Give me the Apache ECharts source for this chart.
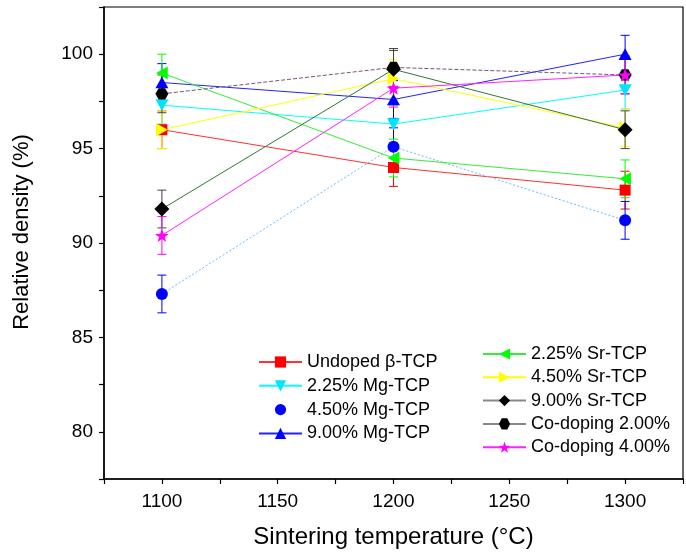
<!DOCTYPE html>
<html>
<head>
<meta charset="utf-8">
<script src="https://cdn.jsdelivr.net/npm/echarts@6/dist/echarts.min.js"></script>
<style>
html,body{margin:0;padding:0;background:#fff;}
#chart{width:686px;height:554px;}
</style>
</head>
<body>
<div id="chart"></div>
<script>
// ---- data ----
var temps = [1100, 1200, 1300];
var undoped = [96.0, 94.0, 92.8];
var mg225 = [97.3, 96.3, 98.1];
var mg450 = [87.3, 95.1, 91.2];
var mg900 = [98.5, 97.6, 100.0];
var sr225 = [99.0, 94.5, 93.4];
var sr450 = [96.0, 98.7, 96.1];
var sr900 = [91.8, 99.2, 96.0];
var co200 = [97.9, 99.3, 98.9];
var co400 = [90.4, 98.2, 98.9];

var errUndoped = [1.0, 1.0, 1.0];
var errMg225 = [1.0, 1.0, 1.0];
var errMg450 = [1.0, 1.0, 1.0];
var errMg900 = [1.0, 1.0, 1.0];
var errSr225 = [1.0, 1.0, 1.0];
var errSr450 = [1.0, 1.0, 1.0];
var errSr900 = [1.0, 1.0, 1.0];
var errCo200 = [1.0, 1.0, 1.0];
var errCo400 = [1.0, 1.0, 1.0];

var names = ['Undoped β-TCP', '2.25% Mg-TCP', '4.50% Mg-TCP', '9.00% Mg-TCP',
             '2.25% Sr-TCP', '4.50% Sr-TCP', '9.00% Sr-TCP', 'Co-doping 2.00%', 'Co-doping 4.00%'];
var yTicks = [80, 85, 90, 95, 100];
var xTicks = [1100, 1150, 1200, 1250, 1300];

// ---- styles ----
var sym = {
  square: 'rect',
  down: 'path://M0,0L10,0L5,9Z',
  circle: 'circle',
  up: 'path://M5,0L10,9L0,9Z',
  left: 'path://M0,5L9,0L9,10Z',
  right: 'path://M0,0L9,5L0,10Z',
  diamond: 'diamond',
  hex: 'path://M2.5,0L7.5,0L10,4.33L7.5,8.66L2.5,8.66L0,4.33Z',
  star: 'path://M5,0L6.176,3.382L9.755,3.455L6.902,5.618L7.939,9.045L5,7L2.061,9.045L3.098,5.618L0.245,3.455L3.824,3.382Z'
};
var defs = [
  {v: undoped, e: errUndoped, c: '#ff0000', lc: '#ff3030', s: sym.square, size: 11, type: 'solid'},
  {v: mg225, e: errMg225, c: '#00e5ff', lc: '#00ffff', s: sym.down, size: 13, type: 'solid'},
  {v: mg450, e: errMg450, c: '#0000ff', lc: '#66bbff', s: sym.circle, size: 12, type: [2, 2]},
  {v: mg900, e: errMg900, c: '#0000ff', lc: '#2222ff', s: sym.up, size: 13, type: 'solid'},
  {v: sr225, e: errSr225, c: '#00ff00', lc: '#33ee33', s: sym.left, size: 13, type: 'solid'},
  {v: sr450, e: errSr450, c: '#ffff00', lc: '#ffff00', s: sym.right, size: 13, type: 'solid'},
  {v: sr900, e: errSr900, c: '#000000', lc: '#337733', s: sym.diamond, size: 15, type: 'solid'},
  {v: co200, e: errCo200, c: '#000000', lc: '#775577', s: sym.hex, size: 13, type: [4, 2]},
  {v: co400, e: errCo400, c: '#ff00ff', lc: '#ff22ff', s: sym.star, size: 14, type: 'solid'}
];

var series = [];
defs.forEach(function (d, i) {
  var pts = temps.map(function (t, k) { return [t, d.v[k]]; });
  var ebars = temps.map(function (t, k) { return [t, d.v[k] - d.e[k], d.v[k] + d.e[k]]; });
  series.push({
    type: 'custom',
    name: 'err-' + i,
    z: 2,
    data: ebars,
    encode: {x: 0, y: [1, 2]},
    renderItem: function (params, api) {
      var x = api.value(0);
      var lo = api.coord([x, api.value(1)]);
      var hi = api.coord([x, api.value(2)]);
      var w = 4.5;
      var st = {stroke: d.c === '#000000' ? '#444' : d.c, lineWidth: 1};
      return {
        type: 'group',
        children: [
          {type: 'line', shape: {x1: lo[0], y1: lo[1], x2: hi[0], y2: hi[1]}, style: st},
          {type: 'line', shape: {x1: lo[0] - w, y1: lo[1], x2: lo[0] + w, y2: lo[1]}, style: st},
          {type: 'line', shape: {x1: hi[0] - w, y1: hi[1], x2: hi[0] + w, y2: hi[1]}, style: st}
        ]
      };
    },
    silent: true
  });
  series.push({
    type: 'line',
    name: names[i],
    data: pts,
    z: 3,
    symbol: d.s,
    symbolSize: d.size,
    symbolKeepAspect: true,
    showAllSymbol: true,
    itemStyle: {color: d.c, opacity: 1},
    lineStyle: {color: d.lc, width: 1, type: d.type},
    emphasis: {disabled: true},
    animation: false
  });
});

var legendText = {fontFamily: 'Liberation Sans, Arial, sans-serif', fontSize: 18, color: '#000', lineHeight: 20};

var chart = echarts.init(document.getElementById('chart'), null, {renderer: 'canvas'});
chart.setOption({
  animation: false,
  backgroundColor: '#fff',
  grid: {left: 104, top: 7, width: 586, height: 473.4, show: true, borderColor: '#000', borderWidth: 1.2, backgroundColor: 'transparent'},
  xAxis: {
    type: 'value', min: 1075, max: 1325, interval: 25,
    name: 'Sintering temperature (°C)', nameLocation: 'middle', nameGap: 46,
    nameTextStyle: {fontFamily: 'Liberation Sans, Arial, sans-serif', fontSize: 24, color: '#000'},
    axisLine: {show: true, onZero: false, lineStyle: {color: '#000', width: 1.5}},
    axisTick: {show: true, inside: false, length: 5, lineStyle: {color: '#000', width: 1.2}},
    axisLabel: {
      margin: 13, color: '#000', fontFamily: 'Liberation Sans, Arial, sans-serif', fontSize: 19,
      formatter: function (v) { return xTicks.indexOf(v) >= 0 ? String(v) : ''; }
    },
    splitLine: {show: false}
  },
  yAxis: {
    type: 'value', min: 77.5, max: 102.5, interval: 2.5,
    axisLine: {show: true, onZero: false, lineStyle: {color: '#000', width: 1.5}},
    axisTick: {show: true, inside: false, length: 5, lineStyle: {color: '#000', width: 1.2}},
    axisLabel: {
      margin: 11, color: '#000', fontFamily: 'Liberation Sans, Arial, sans-serif', fontSize: 19,
      formatter: function (v) { return yTicks.indexOf(v) >= 0 ? String(v) : ''; }
    },
    splitLine: {show: false}
  },
  legend: [
    {
      orient: 'vertical', left: 253, top: 347, itemWidth: 43, itemHeight: 14, itemGap: 3.8,
      textStyle: legendText, selectedMode: false,
      data: [names[0], names[1], {name: names[2], lineStyle: {color: 'rgba(0,0,0,0)', opacity: 0}}, names[3]]
    },
    {
      orient: 'vertical', left: 477, top: 339, itemWidth: 43, itemHeight: 14, itemGap: 3.3,
      textStyle: legendText, selectedMode: false,
      data: [names[4], names[5],
             {name: names[6], lineStyle: {color: '#888888', type: 'solid'}},
             {name: names[7], lineStyle: {color: '#888888', type: 'solid'}},
             names[8]]
    }
  ],
  graphic: [
    {
      type: 'text', x: 22, y: 232, rotation: Math.PI / 2,
      style: {text: 'Relative density (%)', font: '22px "Liberation Sans", Arial, sans-serif', fill: '#000', align: 'center', verticalAlign: 'middle'}
    }
  ],
  series: series
});
</script>
</body>
</html>
